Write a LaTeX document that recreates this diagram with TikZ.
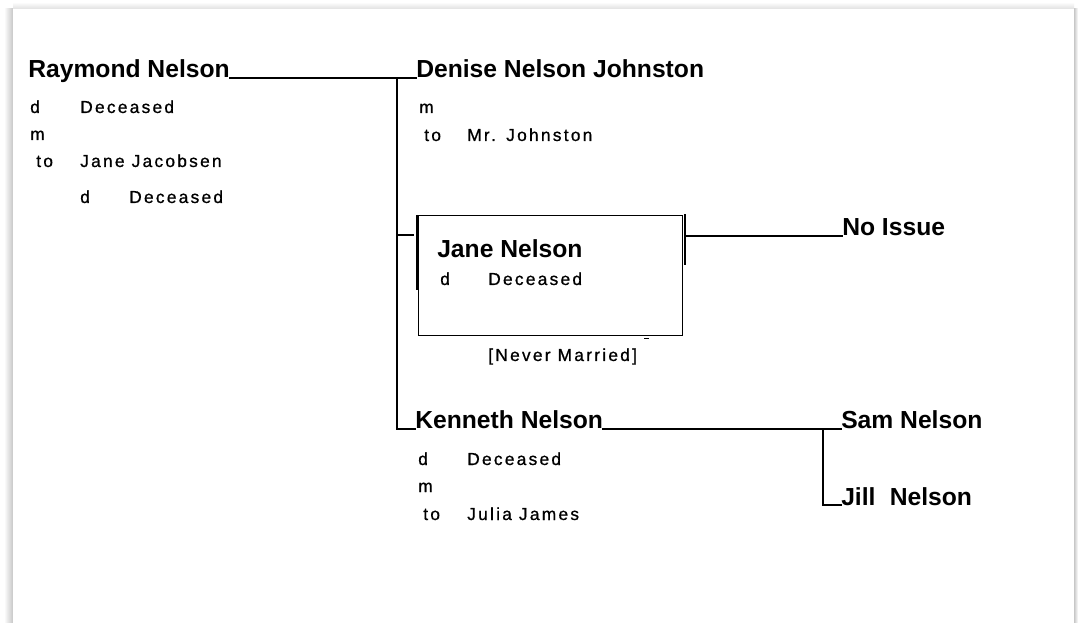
\documentclass[tikz,border=0pt]{standalone}
\usepackage{fontspec}
\setmainfont{Liberation Sans}
\newfontfamily\infofont[LetterSpace=13,FakeBold=0.8]{Liberation Sans}
\begin{document}
\begin{tikzpicture}[x=0.75pt,y=-0.75pt,
  pname/.style={font=\bfseries\fontsize{18.5}{20}\selectfont, anchor=base west, inner sep=0pt},
  pinfo/.style={font=\infofont\fontsize{13}{14}\selectfont, anchor=base west, inner sep=0pt},
  link/.style={line width=1.5pt, line cap=rect},
  thin/.style={line width=1.1pt}]
\useasboundingbox (0,0) rectangle (1078,623);
% page with shadow
\fill[white] (0,0) rectangle (1078,623);
\shade[left color=white, right color=black!22] (4,9) rectangle (13,623);
\shade[left color=black!22, right color=white] (1074,9) rectangle (1078,623);
\shade[top color=white, bottom color=black!12] (13,2) rectangle (1074,9);
\fill[white] (13,9) rectangle (1074,623);

% Raymond
\node[pname] (raymond) at (28,78) {Raymond Nelson};
\node[pinfo] (rd) at (30,113) {d};
\node[pinfo] (rdv) at (80,113) {Deceased};
\node[pinfo] (rm) at (30,140) {m};
\node[pinfo] (rto) at (36,167) {to};
\node[pinfo] (rsp) at (80,167) {Jane Jacobsen};
\node[pinfo] (rsd) at (80,203) {d};
\node[pinfo] (rsdv) at (129,203) {Deceased};

% Denise
\node[pname] (denise) at (416,78) {Denise Nelson Johnston};
\node[pinfo] (dm) at (419,113) {m};
\node[pinfo] (dto) at (424,141) {to};
\node[pinfo] (dsp) at (467,141) {Mr.\hspace{0.6em}Johnston};

% Jane
\node[draw, thin, anchor=north west, inner sep=0pt, minimum width=198pt, minimum height=90pt] (janebox) at (418,215) {};
\node[pname] (jane) at (437,258) {Jane Nelson};
\node[pinfo] (jd) at (440,285) {d};
\node[pinfo] (jdv) at (488,285) {Deceased};
\node[pinfo] (jnm) at (488,361) {[Never Married]};
\draw[thin] (janebox.north west) ++(-1.2,0) -- ++(0,75);
\draw[link] (janebox.north east) ++(1.4,0) -- ++(0,49);
\draw[thin] (janebox.south east) ++(-39,2) -- ++(5,0);
\node[pname] (noissue) at (842,236) {No Issue};

% Kenneth
\node[pname] (kenneth) at (415,429) {Kenneth Nelson};
\node[pinfo] (kd) at (418,465) {d};
\node[pinfo] (kdv) at (467,465) {Deceased};
\node[pinfo] (km) at (418,492) {m};
\node[pinfo] (kto) at (423,520) {to};
\node[pinfo] (ksp) at (467,520) {Julia James};

% children of Kenneth
\node[pname] (sam) at (841,429) {Sam Nelson};
\node[pname] (jill) at (841,505) {Jill\hspace{0.3em} Nelson};

% connectors
\coordinate (trunk) at (396.5,78);
\coordinate (kj) at (822.5,429);
\draw[link] (raymond.base east) -- (denise.base west);
\draw[link] (trunk) |- (kenneth.base west);
\draw[link] (trunk |- 0,235) -- ([xshift=-3.5pt]janebox.west |- 0,235);
\draw[link] ([xshift=2.5pt]janebox.east |- 0,236) -- (noissue.base west);
\draw[link] (kenneth.base east) -- (sam.base west);
\draw[link] (kj) |- (jill.base west);
\end{tikzpicture}
\end{document}
